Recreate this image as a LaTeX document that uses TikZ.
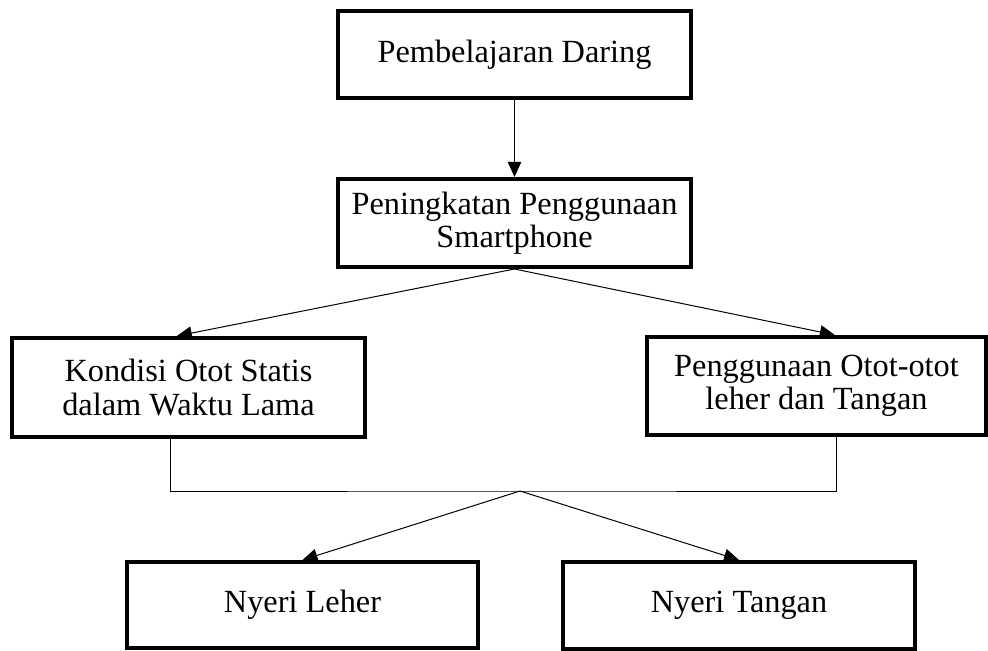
\documentclass[tikz,border=0pt]{standalone}
\usepackage{fontspec}
\setmainfont{Liberation Serif}
\usetikzlibrary{arrows.meta}

\begin{document}
\begin{tikzpicture}[x=0.3mm,y=-0.3mm]

\tikzstyle{kotak}=[draw, line width=1.2mm, align=center, inner sep=0pt, font=\fontsize{27.6}{28.5}\selectfont]
\tikzstyle{panah}=[line width=0.3mm, -{Triangle[length=4.5mm,width=4mm]}]
\tikzstyle{garis}=[line width=0.3mm]

\useasboundingbox (0,0) rectangle (988,651);

\node[kotak, minimum width=105.9mm, minimum height=26.1mm] (daring) at (514.5,54.5) {Pembelajaran Daring};
\node[kotak, minimum width=105.9mm, minimum height=26.4mm] (hp) at (514.5,223) {Peningkatan Penggunaan\\Smartphone};
\node[kotak, minimum width=105.9mm, minimum height=29.7mm] (statis) at (188.5,387.5) {Kondisi Otot Statis\\dalam Waktu Lama};
\node[kotak, minimum width=101.7mm, minimum height=29.4mm] (otot) at (816.5,386) {Penggunaan Otot-otot\\leher dan Tangan};
\node[kotak, minimum width=105.3mm, minimum height=25.8mm] (leher) at (302.5,605) {Nyeri Leher};
\node[kotak, minimum width=105.6mm, minimum height=26.1mm] (tangan) at (739,605.5) {Nyeri Tangan};

\coordinate (temu) at (520,491);

\draw[panah] (daring) -- (hp);
\draw[panah] (hp.south) -- ([xshift=-3.5mm]statis.north);
\draw[panah] (hp.south) -- ([xshift=5.5mm]otot.north);
\draw[garis] ([xshift=-5.5mm]statis.south) |- (temu) -| ([xshift=5.9mm]otot.south);
\draw[panah] (temu) -- (leher.north);
\draw[panah] (temu) -- (tangan.north);

\end{tikzpicture}
\end{document}
